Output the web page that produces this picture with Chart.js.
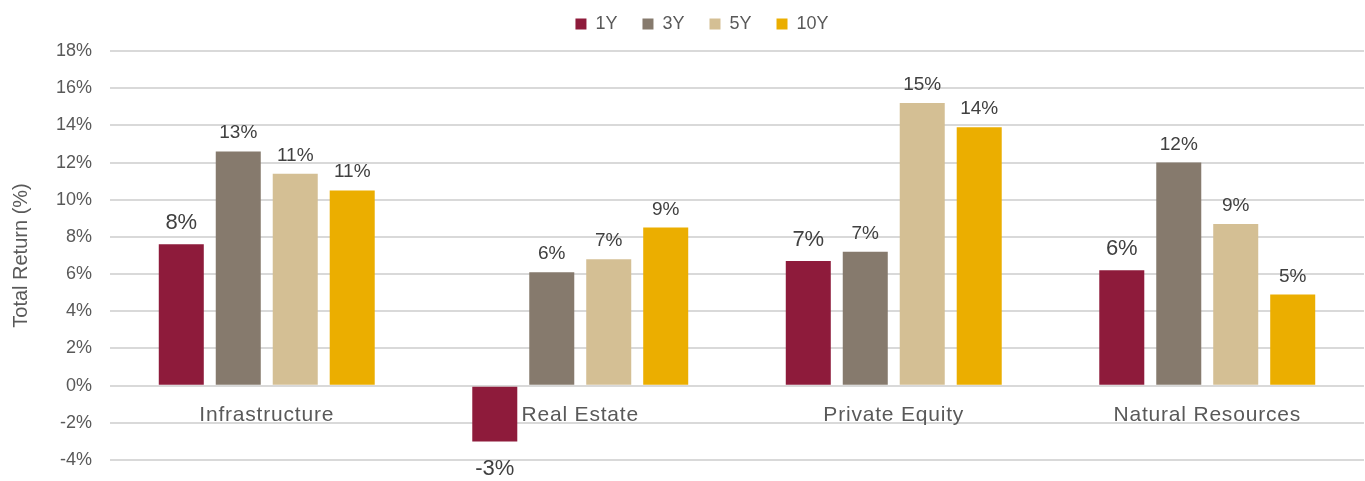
<!DOCTYPE html>
<html>
<head>
<meta charset="utf-8">
<script src="https://cdn.jsdelivr.net/npm/chart.js@4"></script>
<style>
  html, body { margin: 0; padding: 0; background: #fff; }
  #wrap { width: 1365px; height: 481px; }
</style>
</head>
<body>
<div id="wrap"><canvas id="chart"></canvas></div>
<script>
const categories = ["Infrastructure", "Real Estate", "Private Equity", "Natural Resources"];
const periods = ["1Y", "3Y", "5Y", "10Y"];
const oneYear = [7.6, -3.0, 6.7, 6.2];
const threeYear = [12.6, 6.1, 7.2, 12.0];
const fiveYear = [11.4, 6.8, 15.2, 8.7];
const tenYear = [10.5, 8.5, 13.9, 4.9];
const colors = ["#8E1B3B", "#867A6D", "#D4BF94", "#EBAE00"];
const yTicks = [-4, -2, 0, 2, 4, 6, 8, 10, 12, 14, 16, 18];

const font = "'Liberation Sans', Arial, sans-serif";

// value labels above / below each bar (1Y labels are a bit bigger)
const barLabels = {
  id: "barLabels",
  afterDatasetsDraw(chart) {
    const ctx = chart.ctx;
    ctx.save();
    ctx.fillStyle = "#404040";
    ctx.textAlign = "center";
    chart.data.datasets.forEach((ds, i) => {
      const meta = chart.getDatasetMeta(i);
      const size = i === 0 ? 22 : 19;
      ctx.font = size + "px " + font;
      meta.data.forEach((bar, j) => {
        const v = ds.data[j];
        const txt = Math.round(v) + "%";
        if (v >= 0) {
          ctx.textBaseline = "alphabetic";
          ctx.fillText(txt, bar.x, bar.y - (i === 0 ? 15 : 13));
        } else {
          ctx.textBaseline = "top";
          ctx.fillText(txt, bar.x, bar.y + 17);
        }
      });
    });
    ctx.restore();
  }
};

// category names sit just under the zero line
const categoryLabels = {
  id: "categoryLabels",
  afterDraw(chart) {
    const ctx = chart.ctx;
    const x = chart.scales.x;
    const y0 = chart.scales.y.getPixelForValue(0);
    ctx.save();
    ctx.fillStyle = "#595959";
    ctx.font = "21px " + font;
    ctx.letterSpacing = "0.8px";
    ctx.textAlign = "center";
    ctx.textBaseline = "alphabetic";
    categories.forEach((c, i) => {
      ctx.fillText(c, x.getPixelForValue(i), y0 + 35);
    });
    ctx.restore();
  }
};

const legendSpace = {
  id: "legendSpace",
  beforeInit(chart) {
    const fit = chart.legend.fit;
    chart.legend.fit = function () {
      fit.bind(chart.legend)();
      this.height = 61;
    };
  },
  afterLayout(chart) {
    chart.legend.left += 40;
  }
};

new Chart(document.getElementById("chart"), {
  type: "bar",
  data: {
    labels: categories,
    datasets: [oneYear, threeYear, fiveYear, tenYear].map((d, i) => ({
      label: periods[i],
      data: d,
      backgroundColor: colors[i],
      borderWidth: 0,
      categoryPercentage: 0.727,
      barPercentage: 0.79
    }))
  },
  options: {
    responsive: true,
    maintainAspectRatio: false,
    animation: false,
    layout: { padding: { left: 0, right: 1, top: -10, bottom: 13 } },
    plugins: {
      tooltip: { enabled: false },
      legend: {
        position: "top",
        labels: {
          boxWidth: 11,
          boxHeight: 11,
          padding: 25,
          color: "#595959",
          font: { family: font, size: 18 }
        }
      }
    },
    scales: {
      x: {
        grid: { display: false },
        border: { display: false },
        ticks: { display: false }
      },
      y: {
        min: -4,
        max: 18,
        afterBuildTicks: (scale) => { scale.ticks = yTicks.map(v => ({ value: v })); },
        afterFit: (scale) => { scale.width = 110; },
        grid: { color: "#d9d9d9", lineWidth: 2, drawTicks: true, tickLength: 18, tickColor: "rgba(0,0,0,0)" },
        border: { display: false },
        ticks: {
          color: "#595959",
          padding: 0,
          font: { family: font, size: 18 },
          callback: (v) => v + "%"
        },
        title: {
          display: true,
          text: "Total Return (%)",
          color: "#595959",
          font: { family: font, size: 20 },
          padding: { top: 9, bottom: 0 }
        }
      }
    }
  },
  plugins: [barLabels, categoryLabels, legendSpace]
});
</script>
</body>
</html>
